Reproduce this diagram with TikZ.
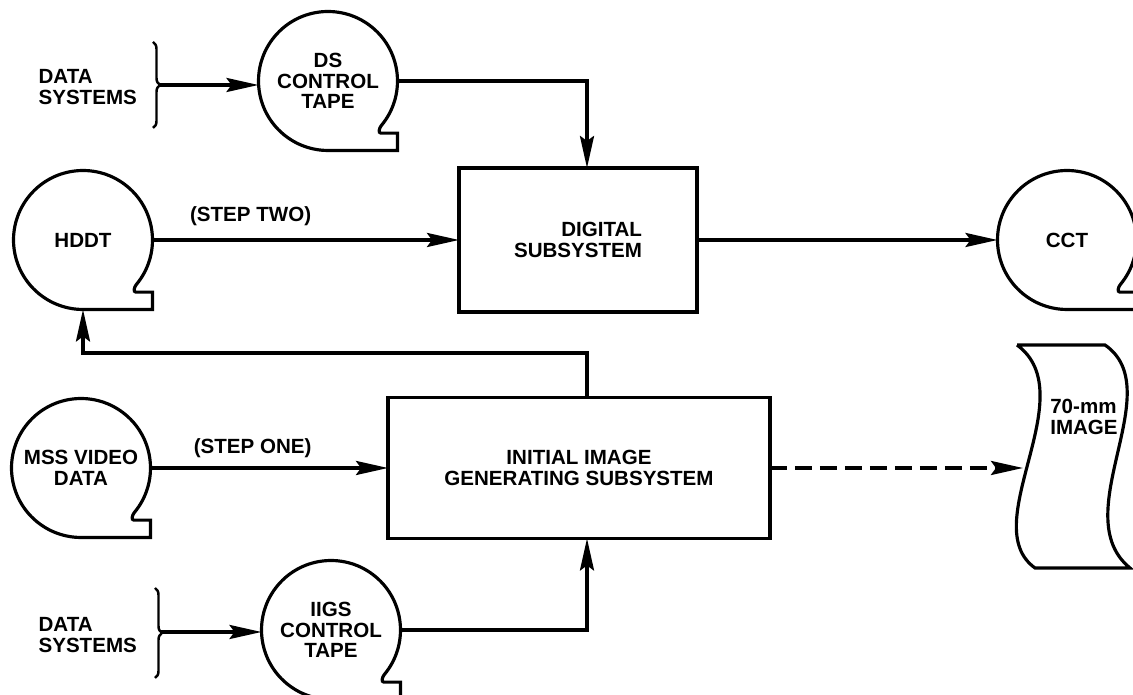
\documentclass[tikz,border=0pt]{standalone}
\usepackage{fontspec}
\setmainfont{Liberation Sans}
\usetikzlibrary{positioning,calc,arrows.meta,decorations.pathreplacing}

\newcommand\taperad{1.39cm}
\newcommand\tapeshape[1]{%
  \draw[tapeline] (#1.-40) arc[start angle=-40,end angle=270,radius=\taperad]
    -- ++(\taperad,0) -- ++(0,{0.25*\taperad})
    -- ++({-0.24*\taperad},0) to[out=180,in=230] (#1.-40);}

\begin{document}
\begin{tikzpicture}[x=0.02cm, y=0.02cm, line width=2pt,
    >={Stealth[length=0.64cm,width=0.28cm,inset=0.1cm]},
    every node/.style={font=\bfseries\fontsize{11.7}{11.6}\selectfont, align=center},
    tape/.style={circle, minimum size=2.78cm, inner sep=0pt, outer sep=0pt},
    tapeline/.style={line width=1.8pt},
    box/.style={draw, rectangle, outer sep=0pt},
    curly/.style={decorate, decoration={brace, amplitude=0.14cm}, line width=1.4pt},
    filmdash/.style={dash pattern=on 0.34cm off 0.16cm}]
    \useasboundingbox (0,0) rectangle (1133,695);

    \node [align=left, anchor=west] (dsysA) at (31,608) {DATA\\SYSTEMS};
    \node [tape] (dstape) at (328,614) {DS\\CONTROL\\TAPE};
    \node [tape] (hddt) at (83,455) {HDDT};
    \node [box, minimum width=4.76cm, minimum height=2.88cm, align=right] (digital) at (578,455) {DIGITAL\\SUBSYSTEM};
    \node [tape] (cct) at (1067,455) {CCT};
    \node [tape] (mss) at (81,227) {MSS VIDEO\\DATA};
    \node [box, minimum width=7.64cm, minimum height=2.82cm] (iigs) at (579,227) {INITIAL IMAGE\\GENERATING SUBSYSTEM};
    \node [align=left] (film) at (1084,278) {70-mm\\IMAGE};
    \node [align=left, anchor=west] (dsysB) at (31,60) {DATA\\SYSTEMS};
    \node [tape] (iigstape) at (331,65) {IIGS\\CONTROL\\TAPE};

    \foreach \t in {dstape,hddt,cct,mss,iigstape} {\tapeshape{\t}}

    \draw [tapeline] (1017,350) -- (1105,350)
        .. controls (1170,305) and (1065,180) .. (1130,127)
        -- (1035,127)
        .. controls (975,170) and (1085,300) .. (1017,350);

    \draw [curly] (153,653) -- (153,567);
    \draw [curly] (155,107) -- (155,17);
    \coordinate (braceA) at (159,610);
    \coordinate (braceB) at (161,63);
    \coordinate (fbturn) at (587,342);
    \coordinate (filmin) at (1023,227);

    \draw [->] (braceA) -- (braceA -| dstape.west);
    \draw [->] (braceB) -- (braceB -| iigstape.west);
    \draw [->] (dstape.east) -| (digital.north -| fbturn);
    \draw [->] (hddt.east) -- node [pos=.32, anchor=base, yshift=0.36cm] {(STEP TWO)} (digital.west);
    \draw [->] (digital.east) -- (cct.west);
    \draw [->] (iigs.north -| fbturn) -- (fbturn) -| (hddt.south);
    \draw [->] (mss.east) -- node [pos=.43, anchor=base, yshift=0.28cm] {(STEP ONE)} (iigs.west);
    \draw [->] (iigstape.east) -| (iigs.south -| fbturn);
    \draw [->, filmdash] (iigs.east) -- (filmin);
\end{tikzpicture}
\end{document}
